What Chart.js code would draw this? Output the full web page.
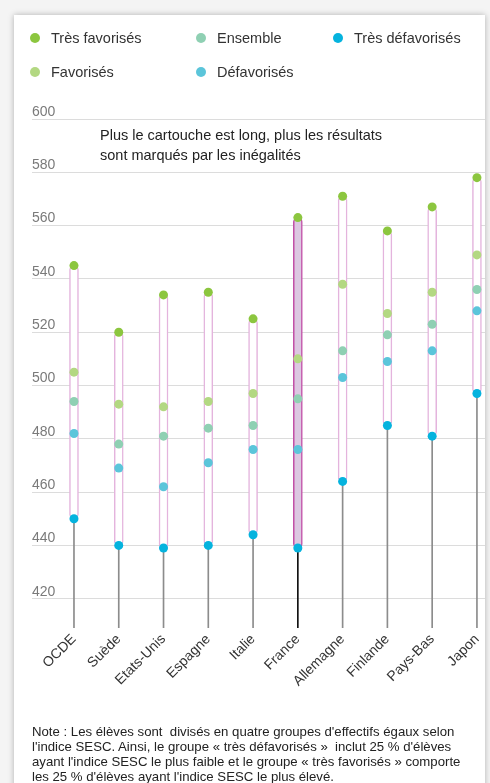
<!DOCTYPE html>
<html>
<head>
<meta charset="utf-8">
<script src="https://cdn.jsdelivr.net/npm/chart.js@4/dist/chart.umd.min.js"></script>
<style>
  html, body { margin: 0; padding: 0; background: #f4f4f4; }
  body { width: 490px; height: 783px; position: relative; overflow: hidden; font-family: "Liberation Sans", Arial, sans-serif; }
  #panel { position: absolute; left: 14px; top: 15px; width: 471px; height: 800px; background: #fff; box-shadow: 0 0 6px rgba(0,0,0,0.28); }
  #chart { position: absolute; left: 0; top: 0; }
  .leg { position: absolute; font-size: 14.5px; color: #333; line-height: 16px; white-space: nowrap; }
  .leg i { position: absolute; left: -21px; top: 3px; width: 10px; height: 10px; border-radius: 50%; }
  #annot { position: absolute; left: 100px; top: 125px; font-size: 14.5px; line-height: 20px; color: #222; }
  #note { position: absolute; left: 32px; top: 724px; font-size: 13.2px; line-height: 15px; color: #222; white-space: nowrap; }
</style>
</head>
<body>
<div id="panel"></div>
<canvas id="chart" width="490" height="783"></canvas>
<div id="legend"></div>
<div id="annot">Plus le cartouche est long, plus les résultats<br>sont marqués par les inégalités</div>
<div id="note">Note : Les élèves sont&nbsp; divisés en quatre groupes d'effectifs égaux selon<br>l'indice SESC. Ainsi, le groupe « très défavorisés »&nbsp; inclut 25 % d'élèves<br>ayant l'indice SESC le plus faible et le groupe « très favorisés » comporte<br>les 25 % d'élèves ayant l'indice SESC le plus élevé.</div>
<script>
const countries = ['OCDE', 'Suède', 'Etats-Unis', 'Espagne', 'Italie', 'France', 'Allemagne', 'Finlande', 'Pays-Bas', 'Japon']
const tresFavorises = [545, 520, 534, 535, 525, 563, 571, 558, 567, 578]
const favorises = [505, 493, 492, 494, 497, 510, 538, 527, 535, 549]
const ensemble = [494, 478, 481, 484, 485, 495, 513, 519, 523, 536]
const defavorises = [482, 469, 462, 471, 476, 476, 503, 509, 513, 528]
const tresDefavorises = [450, 440, 439, 440, 444, 439, 464, 485, 481, 497]
const yTicks = [420, 440, 460, 480, 500, 520, 540, 560, 580, 600]
const yMin = 409
const highlight = 'France'

const series = [
  { label: 'Très favorisés', data: tresFavorises, color: '#8cc63f', col: 0, row: 0 },
  { label: 'Favorisés', data: favorises, color: '#b3d882', col: 0, row: 1 },
  { label: 'Ensemble', data: ensemble, color: '#8fd0b3', col: 1, row: 0 },
  { label: 'Défavorisés', data: defavorises, color: '#5bc5da', col: 1, row: 1 },
  { label: 'Très défavorisés', data: tresDefavorises, color: '#05b3de', col: 2, row: 0 },
]

// html legend, 3 columns x 2 rows
const legX = [51, 217, 354]
const legEl = document.getElementById('legend')
series.forEach(s => {
  const d = document.createElement('div')
  d.className = 'leg'
  d.style.left = legX[s.col] + 'px'
  d.style.top = (30 + s.row * 34) + 'px'
  d.innerHTML = `<i style="background:${s.color}"></i>${s.label}`
  legEl.appendChild(d)
})

const isHi = ctx => countries[ctx.dataIndex] === highlight

const datasets = series.map(s => ({
  type: 'scatter',
  label: s.label,
  data: s.data.map((v, i) => ({ x: i, y: v })),
  backgroundColor: s.color,
  borderWidth: 0,
  pointRadius: 4.5,
  order: 0,
}))

datasets.push({
  type: 'bar',
  label: 'cartouche',
  data: countries.map((c, i) => ({ x: i, y: [tresDefavorises[i], tresFavorises[i]] })),
  backgroundColor: ctx => isHi(ctx) ? '#dcc7e1' : '#ffffff',
  borderColor: ctx => isHi(ctx) ? '#c24ea6' : '#e4b4dd',
  borderWidth: 1.5,
  borderSkipped: false,
  borderRadius: 5,
  barThickness: 9,
  grouped: false,
  order: 1,
})

datasets.push({
  type: 'bar',
  label: 'tige',
  data: countries.map((c, i) => ({ x: i, y: [yMin, tresDefavorises[i]] })),
  backgroundColor: ctx => isHi(ctx) ? '#111111' : '#8c8c8c',
  borderWidth: 0,
  barThickness: 1,
  grouped: false,
  order: 2,
})

const ctx = document.getElementById('chart').getContext('2d')
new Chart(ctx, {
  type: 'bar',
  data: { datasets },
  options: {
    responsive: false,
    animation: false,
    layout: { padding: { left: 32, right: 5, top: 119, bottom: 0 } },
    plugins: { legend: { display: false }, tooltip: { enabled: false } },
    scales: {
      x: {
        type: 'linear',
        min: -0.9375,
        max: 9.18,
        offset: false,
        grid: { display: false },
        border: { display: false },
        afterFit: s => { s.height = 155 },
        ticks: {
          stepSize: 1,
          includeBounds: false,
          autoSkip: false,
          minRotation: 45,
          maxRotation: 45,
          padding: -5,
          color: '#333',
          font: { family: 'Liberation Sans', size: 14 },
          callback: v => Number.isInteger(v) ? (countries[v] || '') : '',
        },
      },
      y: {
        min: yMin,
        max: 600,
        afterFit: s => { s.width = 0 },
        afterBuildTicks: s => { s.ticks = yTicks.map(v => ({ value: v })) },
        grid: { color: '#dcdcdc', lineWidth: 1, drawTicks: false },
        border: { display: false },
        ticks: {
          mirror: true,
          padding: 0,
          labelOffset: -7,
          color: '#7a7a7a',
          font: { family: 'Liberation Sans', size: 14 },
        },
      },
    },
  },
})
</script>
</body>
</html>
